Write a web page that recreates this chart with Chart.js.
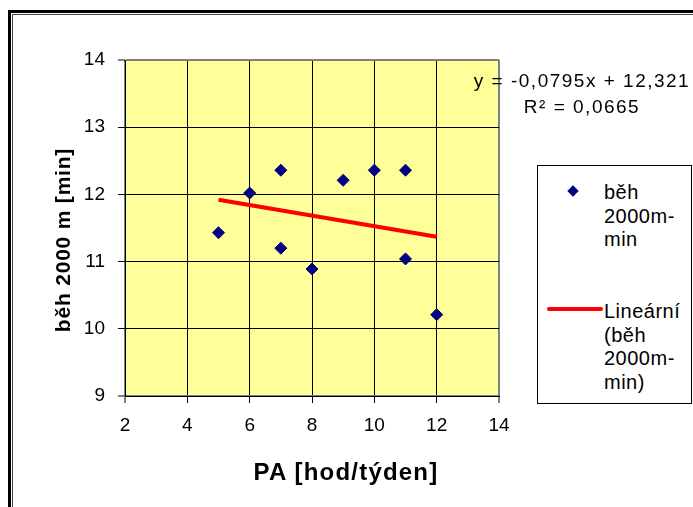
<!DOCTYPE html>
<html>
<head>
<meta charset="utf-8">
<script src="https://cdn.jsdelivr.net/npm/chart.js@4.4.1/dist/chart.umd.min.js"></script>
<style>
  body { margin: 0; background: #fff; font-family: "Liberation Sans", Arial, sans-serif; }
  #wrap { position: relative; width: 693px; height: 507px; overflow: hidden; background: #fff; }
  #chart { position: absolute; left: 0; top: 0; }
  .frameOuter { position: absolute; left: 8px; top: 10px; width: 720px; height: 540px; border-left: 3px solid #000; border-top: 3px solid #000; }
  .frameInner { position: absolute; left: 12px; top: 14px; width: 720px; height: 540px; border-left: 1px solid #444; border-top: 1px solid #444; }
  .txt { position: absolute; color: #000; white-space: nowrap; }
  #xTitle { left: 246px; top: 458px; width: 200px; text-align: center; font-size: 24px; font-weight: bold; line-height: 28px; letter-spacing: 1.2px; }
  #yTitle { left: -57px; top: 227px; width: 240px; height: 26px; text-align: center; font-size: 21px; font-weight: bold; line-height: 26px; letter-spacing: 0.8px; transform: rotate(-90deg); }
  #equation { left: 462px; top: 68px; width: 240px; text-align: center; font-size: 19px; line-height: 26px; letter-spacing: 1.5px; }
  #legend { position: absolute; left: 537px; top: 165px; width: 153px; height: 237px; border: 1px solid #000; background: #fff; }
  .legText { font-size: 20px; line-height: 23.5px; letter-spacing: 0.5px; }
  .diamond { position: absolute; width: 8px; height: 8px; background: #000080; transform: rotate(45deg); }
  .redLine { position: absolute; height: 4px; background: #ff0000; border-radius: 2px; }
</style>
</head>
<body>
<div id="wrap">
  <div class="frameOuter"></div>
  <div class="frameInner"></div>
  <canvas id="chart" width="693" height="507"></canvas>
  <div id="equation" class="txt">y = -0,0795x + 12,321<br>R² = 0,0665</div>
  <div id="legend">
    <div class="diamond" style="left:31px; top:21px;"></div>
    <div class="txt legText" style="left:66px; top:15px;">běh<br>2000m-<br>min</div>
    <div class="redLine" style="left:9px; top:141px; width:56px;"></div>
    <div class="txt legText" style="left:66px; top:134px;">Lineární<br>(běh<br>2000m-<br>min)</div>
  </div>
  <div id="xTitle" class="txt">PA [hod/týden]</div>
  <div id="yTitle" class="txt">běh 2000 m [min]</div>
</div>

<script>
// Data
const paHours = [5, 6, 7, 7, 8, 9, 10, 11, 11, 12];
const runMinutes = [11.43, 12.02, 12.36, 11.20, 10.89, 12.21, 12.36, 12.36, 11.04, 10.21];

// Linear trend line ends (y = -0,0795x + 12,321)
const trendX = [5, 12];
const trendY = [11.92, 11.37];

// Axis tick labels
const xTicks = [2, 4, 6, 8, 10, 12, 14];
const yTicks = [9, 10, 11, 12, 13, 14];

const scatterPoints = paHours.map((x, i) => ({ x: x, y: runMinutes[i] }));
const trendPoints = trendX.map((x, i) => ({ x: x, y: trendY[i] }));

// yellow plot area
const plotBackground = {
    id: 'plotBackground',
    beforeDraw(chart) {
        const { ctx, chartArea: a } = chart;
        ctx.save();
        ctx.fillStyle = '#ffff99';
        ctx.fillRect(a.left, a.top, a.right - a.left, a.bottom - a.top);
        ctx.restore();
    }
};

const tickFont = { family: '"Liberation Sans", Arial, sans-serif', size: 19 };

function edgeColor(edges) {
    return c => (c.tick && edges.includes(c.tick.value)) ? '#808080' : '#000000';
}
function edgeWidth(edges) {
    return c => (c.tick && edges.includes(c.tick.value)) ? 2 : 1;
}

const chart = new Chart(document.getElementById('chart'), {
    type: 'scatter',
    data: {
        datasets: [{
            label: 'běh 2000m-min',
            data: scatterPoints,
            pointStyle: 'rectRot',
            pointRadius: 6,
            backgroundColor: '#000080',
            borderColor: '#000080',
            borderWidth: 1,
            order: 0
        }, {
            type: 'line',
            label: 'Lineární (běh 2000m-min)',
            data: trendPoints,
            borderColor: '#ff0000',
            borderWidth: 4,
            pointRadius: 0,
            fill: false,
            tension: 0,
            order: 1
        }]
    },
    options: {
        responsive: false,
        animation: false,
        layout: { padding: { left: 0, top: 60, right: 194, bottom: 0 } },
        plugins: { legend: { display: false }, tooltip: { enabled: false } },
        scales: {
            x: {
                type: 'linear',
                min: 2,
                max: 14,
                afterBuildTicks: s => { s.ticks = xTicks.map(v => ({ value: v })); },
                afterFit: s => { s.height = 111; },
                ticks: { color: '#000', font: tickFont, padding: 11, maxRotation: 0 },
                grid: { color: edgeColor([2, 14]), lineWidth: edgeWidth([2, 14]), tickColor: '#000', tickLength: 7, tickWidth: 1 },
                border: { display: true, color: '#000', width: 1 }
            },
            y: {
                min: 9,
                max: 14,
                afterBuildTicks: s => { s.ticks = yTicks.map(v => ({ value: v })); },
                afterFit: s => { s.width = 125; },
                ticks: { color: '#000', font: tickFont, padding: 13 },
                grid: { color: edgeColor([9, 14]), lineWidth: edgeWidth([9, 14]), tickColor: '#000', tickLength: 7, tickWidth: 1 },
                border: { display: true, color: '#000', width: 1 }
            }
        }
    },
    plugins: [plotBackground]
});
</script>
</body>
</html>
